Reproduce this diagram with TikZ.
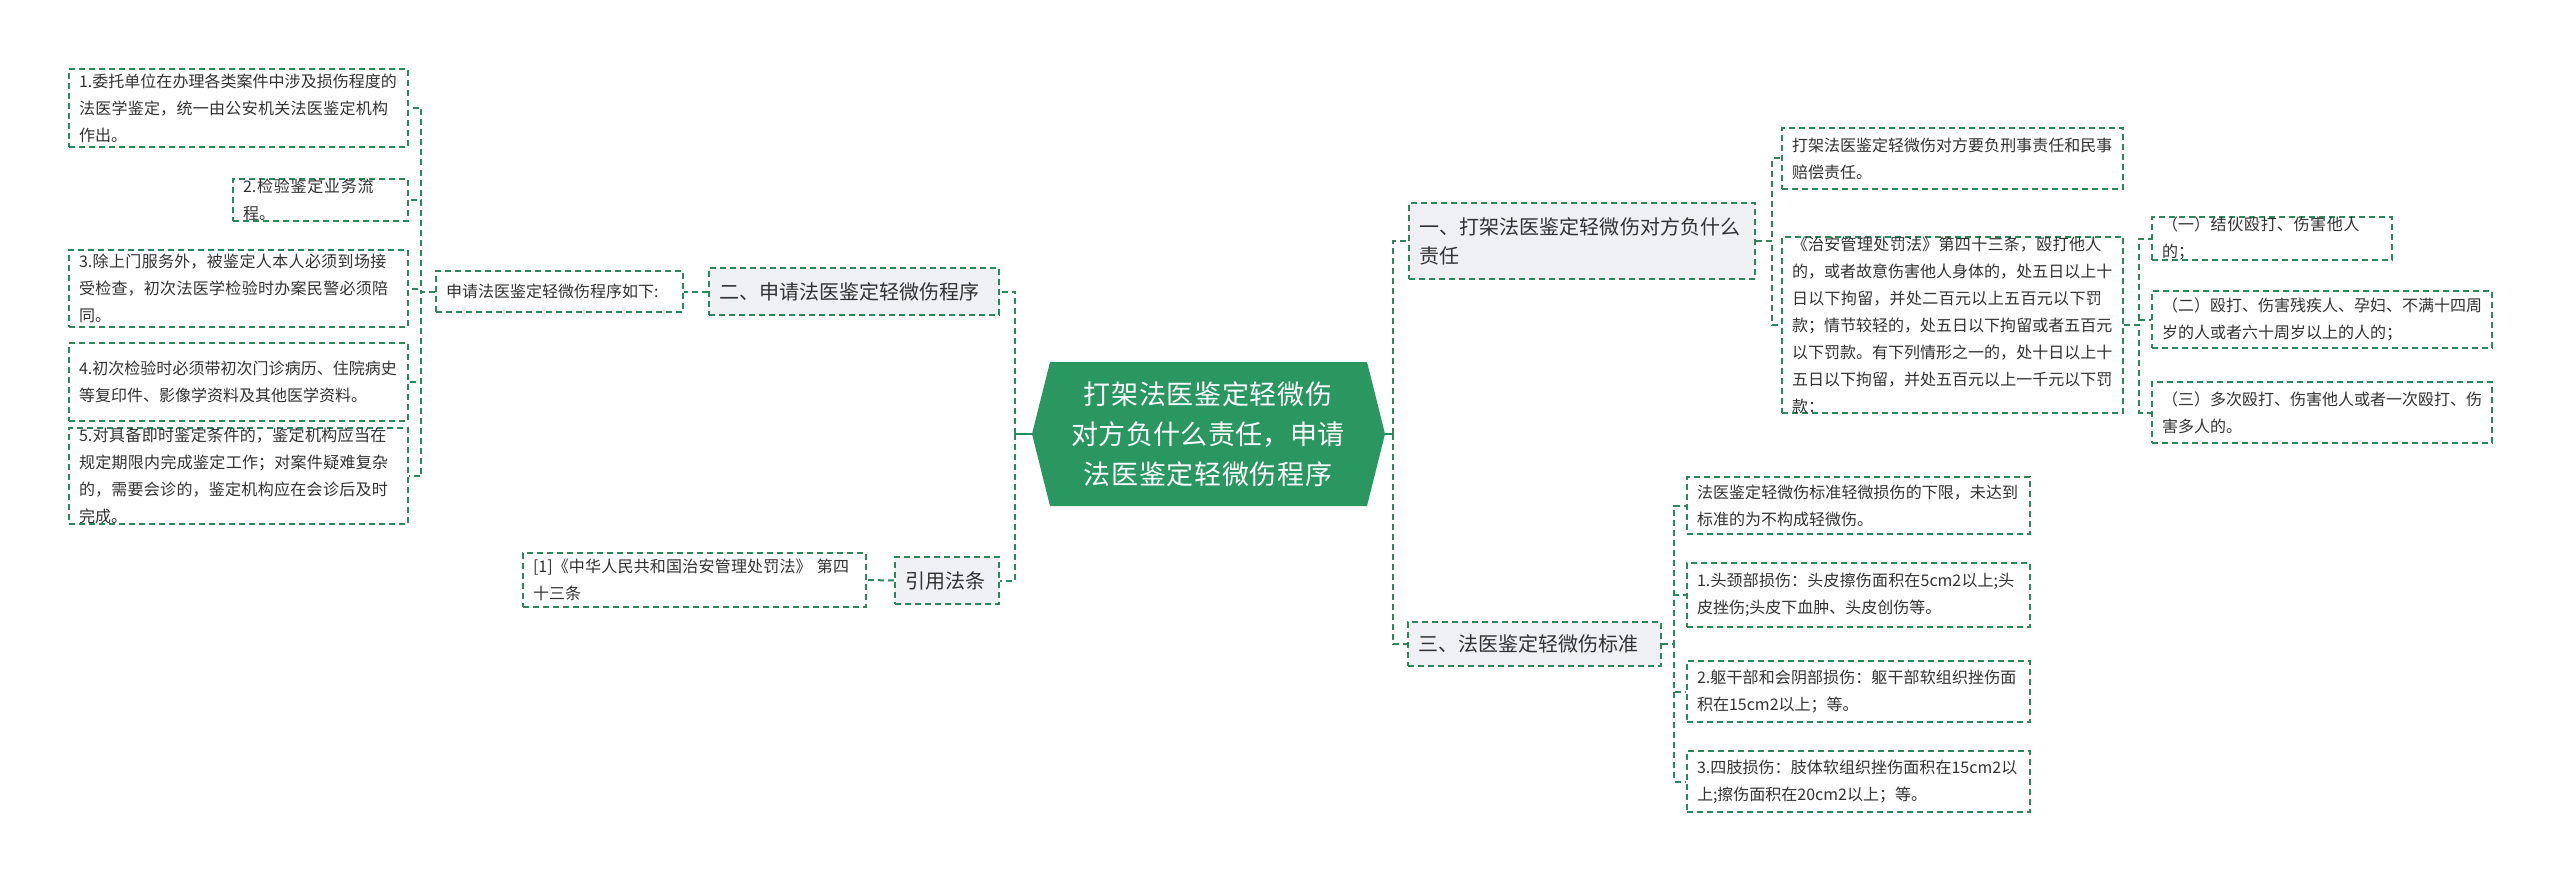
\documentclass[tikz,border=0pt]{standalone}
\usepackage{fontspec}
\setmainfont{Noto Sans CJK SC}
\XeTeXlinebreaklocale "zh"
\XeTeXlinebreakskip=0pt plus 1pt
\begin{document}
\begin{tikzpicture}[x=1pt,y=-1pt,
  gline/.style={draw=lk,line width=2pt,dash pattern=on 6pt off 4pt},
  leaf/.style={gline,fill=white,inner sep=0pt,align=left,font=\fontsize{16}{27}\selectfont,text=tx},
  lvone/.style={gline,fill=gb,inner sep=0pt,align=left,font=\fontsize{20}{29}\selectfont,text=tx},
  conn/.style={gline}]
\definecolor{lk}{RGB}{46,135,90}
\definecolor{gb}{RGB}{238,240,243}
\definecolor{tx}{RGB}{50,50,50}
\definecolor{cg}{RGB}{42,150,96}
\useasboundingbox (0,0) rectangle (2560,880);
\fill[white] (0,0) rectangle (2560,880);
\newcommand{\bx}[7]{%
  \node[#1,minimum width=#5-#3,minimum height=#6-#4,text width=#5-#3-20] (#2) at ({(#3+#5)/2},{(#4+#6)/2}) {#7};}
% center
\fill[cg] (1032,434) -- (1050,362) -- (1367,362) -- (1385,434) -- (1367,506) -- (1050,506) -- cycle;
\node[text=white,align=center,font=\fontsize{27}{40}\selectfont,text width=320] (c) at (1208,434) {打架法医鉴定轻微伤对方负什么责任，申请法医鉴定轻微伤程序};
\coordinate (cl) at (1032,434);
\coordinate (cr) at (1385,434);
% left side
\bx{lvone}{L2}{709}{268}{999}{315}{二、申请法医鉴定轻微伤程序}
\bx{leaf}{L2a}{436}{271}{683}{312}{申请法医鉴定轻微伤程序如下:}
\bx{leaf}{p1}{69}{69}{408}{147}{1.委托单位在办理各类案件中涉及损伤程度的法医学鉴定，统一由公安机关法医鉴定机构作出。}
\bx{leaf}{p2}{233}{181}{408}{219}{2.检验鉴定业务流程。}
\bx{leaf}{p3}{69}{250}{408}{327}{3.除上门服务外，被鉴定人本人必须到场接受检查，初次法医学检验时办案民警必须陪同。}
\bx{leaf}{p4}{69}{343}{408}{421}{4.初次检验时必须带初次门诊病历、住院病史等复印件、影像学资料及其他医学资料。}
\bx{leaf}{p5}{69}{436}{408}{516}{5.对具备即时鉴定条件的，鉴定机构应当在规定期限内完成鉴定工作；对案件疑难复杂的，需要会诊的，鉴定机构应在会诊后及时完成。}
\bx{lvone}{L4}{895}{557}{999}{604}{引用法条}
\bx{leaf}{L4a}{523}{553}{866}{607}{[1]《中华人民共和国治安管理处罚法》 第四十三条}
% right side
\bx{lvone}{R1}{1409}{203}{1755}{279}{一、打架法医鉴定轻微伤对方负什么责任}
\bx{lvone}{R3}{1408}{622}{1661}{666}{三、法医鉴定轻微伤标准}
\bx{leaf}{a1}{1782}{128}{2123}{189}{打架法医鉴定轻微伤对方要负刑事责任和民事赔偿责任。}
\bx{leaf}{a2}{1782}{253}{2123}{397}{《治安管理处罚法》第四十三条，殴打他人的，或者故意伤害他人身体的，处五日以上十日以下拘留，并处二百元以上五百元以下罚款；情节较轻的，处五日以下拘留或者五百元以下罚款。有下列情形之一的，处十日以上十五日以下拘留，并处五百元以上一千元以下罚款：}
\bx{leaf}{b1}{2152}{219}{2392}{258}{（一）结伙殴打、伤害他人的；}
\bx{leaf}{b2}{2152}{291}{2492}{348}{（二）殴打、伤害残疾人、孕妇、不满十四周岁的人或者六十周岁以上的人的；}
\bx{leaf}{b3}{2152}{382}{2492}{443}{（三）多次殴打、伤害他人或者一次殴打、伤害多人的。}
\bx{leaf}{d1}{1687}{477}{2030}{534}{法医鉴定轻微伤标准轻微损伤的下限，未达到标准的为不构成轻微伤。}
\bx{leaf}{d2}{1687}{563}{2030}{627}{1.头颈部损伤：头皮擦伤面积在5cm2以上;头皮挫伤;头皮下血肿、头皮创伤等。}
\bx{leaf}{d3}{1687}{661}{2030}{722}{2.躯干部和会阴部损伤：躯干部软组织挫伤面积在15cm2以上；等。}
\bx{leaf}{d4}{1687}{751}{2030}{812}{3.四肢损伤：肢体软组织挫伤面积在15cm2以上;擦伤面积在20cm2以上；等。}
% connectors
\draw[lk,line width=2pt] (cl) -- (1015,434);
\draw[lk,line width=2pt] (cr) -- (1393,434);
\foreach \n in {L2,L4} \draw[conn] (1015,434) |- (\n.east);
\foreach \n in {R1,R3} \draw[conn] (1393,434) |- (\n.west);
\draw[conn] (L2.west) -- (L2a.east);
\draw[conn] (L4.west) -- (L4a.east);
\foreach \n in {p1,p2,p3,p4,p5} \draw[conn] (L2a.west) -- (421,291.5) |- (\n.east);
\foreach \n in {a1,a2} \draw[conn] (R1.east) -- (1772,241) |- (\n.west);
\foreach \n in {b1,b2,b3} \draw[conn] (a2.east) -- (2139,325) |- (\n.west);
\foreach \n in {d1,d2,d3,d4} \draw[conn] (R3.east) -- (1674,644) |- (\n.west);
\end{tikzpicture}
\end{document}
